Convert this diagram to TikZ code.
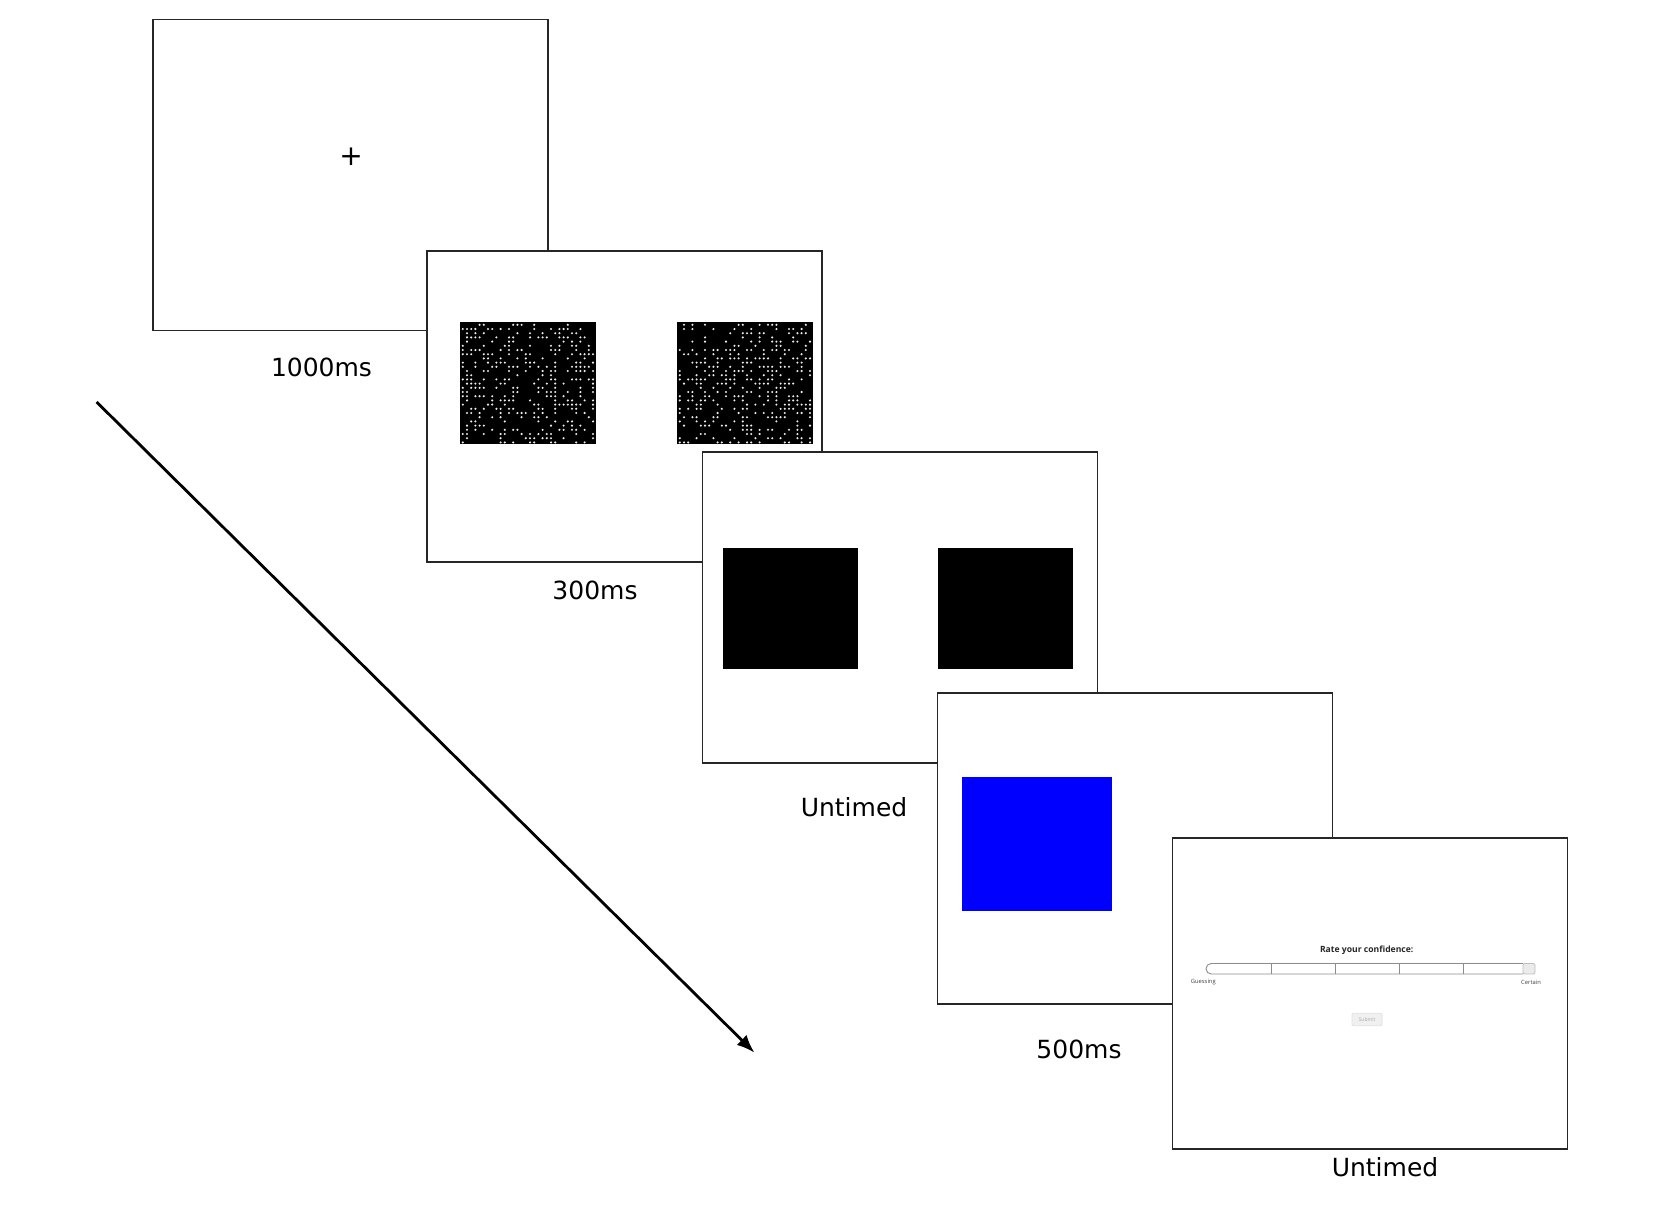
\documentclass[tikz,border=0pt]{standalone}
\usepackage{fontspec}
\setmainfont{DejaVu Sans}
\newfontfamily\uifont{Open Sans}
\usetikzlibrary{arrows.meta}

\tikzset{
  screen/.style={draw=black!85,fill=white,line width=0.7pt,minimum width=197.5pt,minimum height=155.5pt,inner sep=0pt},
  timing/.style={font=\fontsize{12.5}{14}\selectfont,inner sep=0pt},
  patch/.style={inner sep=0pt,minimum width=68pt,minimum height=61pt}
}

\begin{document}
\begin{tikzpicture}[x=0.5pt,y=-0.5pt]
\useasboundingbox (0,0) rectangle (1664,1204);

      % fixation
      \node[screen] (s1) at (350.5,175){};
      \node[inner sep=0pt,font=\fontsize{14}{14}\selectfont] (fix) at (351,157){+};
      \node[timing] (t1) at (321.5,367){1000ms};

      % dot arrays
      \node[screen] (s2) at (624.5,406.5){};
      \node[patch,fill=black] (dl) at (527.5,383){};
      \node[patch,fill=black] (dr) at (745,383){};
      \pgfmathsetseed{17}
      \foreach \gx in {460,677}{
        \foreach \i in {0,...,31}{
          \foreach \j in {0,...,28}{
            \pgfmathtruncatemacro\hit{rnd<0.36}
            \ifnum\hit=1
              \fill[black!8] ({\gx+2.8+\i*4.2},{324.8+\j*4.2}) circle (0.58pt);
            \fi
          }
        }
      }
      \node[timing] (t2) at (595,590){300ms};

      % mask
      \node[screen] (s3) at (900,607.5){};
      \node[patch,fill=black,minimum width=67.5pt,minimum height=60.5pt] (ml) at (790,608){};
      \node[patch,fill=black,minimum width=67.5pt,minimum height=60.5pt] (mr) at (1005.5,608){};
      \node[timing] (t3) at (854,807.6){Untimed};

      % colour feedback
      \node[screen] (s4) at (1135,848.5){};
      \node[patch,fill=blue,minimum width=75.3pt,minimum height=66.9pt] (cue) at (1036.8,843.7){};
      \node[timing] (t4) at (1079,1049.5){500ms};

      % confidence rating
      \node[screen] (s5) at (1370,993.5){};
      \node[inner sep=0pt,font=\uifont\bfseries\fontsize{4.3}{5}\selectfont,text=black!85] (rate) at (1366.7,950){Rate your confidence:};
      \draw[black!45,line width=0.45pt,rounded corners=2.6pt] (1523,963.5) -- (1206,963.5) -- (1206,974) -- (1523,974);
      \foreach \tx in {1271,1335,1399.3,1463.7}
        \draw[black!45,line width=0.45pt] (\tx,963.5) -- (\tx,974);
      \draw[black!25,fill=black!8,line width=0.4pt,rounded corners=1pt] (1523,963.5) rectangle (1535,974);
      \node[inner sep=0pt,font=\uifont\fontsize{2.9}{3}\selectfont,text=black!75] (lo) at (1203.3,982.3){Guessing};
      \node[inner sep=0pt,font=\uifont\fontsize{2.9}{3}\selectfont,text=black!75] (hi) at (1531,982.3){Certain};
      \node[draw=black!12,fill=black!6,rounded corners=0.6pt,minimum width=15pt,minimum height=6.2pt,inner sep=0pt,
            font=\uifont\fontsize{2.5}{3}\selectfont,text=black!35] (submit) at (1367,1019.5){Submit};
      \node[timing] (t5) at (1385,1167){Untimed};

      % time arrow
      \coordinate (tstart) at (96.6,402);
      \coordinate (tend) at (754.5,1052.7);
      \draw[-{Latex[length=9pt,width=7pt]},line width=1.4pt] (tstart) -- (tend);
\end{tikzpicture}
\end{document}
